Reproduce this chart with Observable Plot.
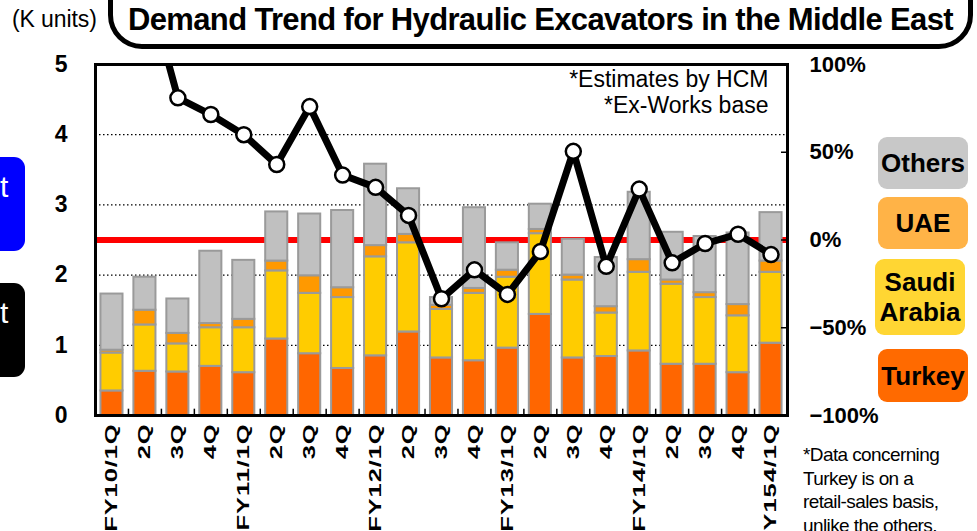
<!DOCTYPE html>
<html><head><meta charset="utf-8">
<script src="https://cdn.jsdelivr.net/npm/d3@7"></script>
<script src="https://cdn.jsdelivr.net/npm/@observablehq/plot@0.6"></script>
<style>
body{margin:0;width:977px;height:531px;overflow:hidden;background:#fff;font-family:"Liberation Sans",Arial,sans-serif;position:relative}
.abs{position:absolute}
#chart{position:absolute;left:0;top:0}
g[aria-label="x-axis tick label"] text{letter-spacing:0.6px}
.leg{position:absolute;display:flex;align-items:center;justify-content:center;text-align:center;font-weight:bold;font-size:26px;line-height:30px;border-radius:9px;color:#000}
</style></head><body>
<div id="chart"></div>
<div class="abs" style="left:-12px;top:157px;width:37px;height:94px;background:#0000ff;border-radius:11px"></div>
<div class="abs" style="left:0px;top:170px;color:#fff;font-size:30px;line-height:34px">t</div>
<div class="abs" style="left:-12px;top:283px;width:37px;height:94px;background:#000;border-radius:11px"></div>
<div class="abs" style="left:0px;top:296px;color:#fff;font-size:30px;line-height:34px">t</div>
<div class="abs" style="left:12px;top:5px;font-size:23px;line-height:28px;letter-spacing:-0.1px">(K units)</div>
<div class="abs" style="left:108px;top:-40px;width:865px;height:89px;border:5px solid #000;border-radius:34px;box-sizing:border-box"></div>
<div class="abs" style="left:108px;width:865px;top:2px;text-align:center;font-weight:bold;font-size:31px;line-height:36px;letter-spacing:-0.65px">Demand Trend for Hydraulic Excavators in the Middle East</div>
<div class="leg" style="left:878px;top:137px;width:90px;height:52px;background:#c8c8c8">Others</div>
<div class="leg" style="left:878px;top:197px;width:90px;height:52px;background:#ffb347">UAE</div>
<div class="leg" style="left:875px;top:259px;width:90px;height:76px;background:#ffd633">Saudi<br>Arabia</div>
<div class="leg" style="left:878px;top:349px;width:90px;height:53px;background:#ff6a00">Turkey</div>
<div class="abs" style="left:803px;top:443px;font-size:19px;line-height:23.5px;letter-spacing:-0.6px">*Data concerning<br>Turkey is on a<br>retail-sales basis,<br>unlike the others.</div>
<script>
const quarters = ["FY10/1Q","FY10/2Q","FY10/3Q","FY10/4Q","FY11/1Q","FY11/2Q","FY11/3Q","FY11/4Q","FY12/1Q","FY12/2Q","FY12/3Q","FY12/4Q","FY13/1Q","FY13/2Q","FY13/3Q","FY13/4Q","FY14/1Q","FY14/2Q","FY14/3Q","FY14/4Q","FY15/1Q"];
const tickLabels = ["FY10/1Q","2Q","3Q","4Q","FY11/1Q","2Q","3Q","4Q","FY12/1Q","2Q","3Q","4Q","FY13/1Q","2Q","3Q","4Q","FY14/1Q","2Q","3Q","4Q","FY154/1Q"];
const turkey = [0.35,0.63,0.62,0.70,0.61,1.09,0.88,0.67,0.85,1.19,0.82,0.78,0.96,1.44,0.82,0.84,0.92,0.73,0.73,0.61,1.03];
const saudi  = [0.54,0.66,0.40,0.55,0.64,0.97,0.86,1.01,1.41,1.27,0.69,0.96,1.01,1.15,1.11,0.62,1.12,1.14,0.95,0.81,1.01];
const uae    = [0.04,0.21,0.15,0.06,0.12,0.14,0.25,0.14,0.16,0.12,0.06,0.07,0.10,0.06,0.07,0.09,0.18,0.06,0.07,0.16,0.16];
const others = [0.80,0.47,0.49,1.03,0.84,0.70,0.88,1.10,1.16,0.65,0.11,1.15,0.39,0.36,0.51,0.70,0.96,0.68,0.80,1.02,0.69];
const yoy    = [170,150,81,71.5,60,43,76,37,30,14,-33.5,-17,-31,-6.6,50.5,-15,29,-13,-2,3.3,-8.3];
const regions = ["Turkey","Saudi Arabia","UAE","Others"];
const colors = ["#ff6600","#ffcc00","#ff9900","#c0c0c0"];
const leftTicks = [0,1,2,3,4,5];
const gridTicks = [1,2,3,4];
const rightTicks = [100,50,0,-50,-100];
const rightInnerTicks = [50,0,-50];
const notes = ["*Estimates by HCM", "*Ex-Works base"];
const noteLevels = [4.79, 4.42];

const W = 977, H = 531, mL = 95, mR = 190, mT = 64, mB = 116;
const plotW = W - mL - mR;
const step = plotW / quarters.length;
const pctToK = p => 2.5 + p / 40;
const kToPct = k => Math.round((k - 2.5) * 40);

const series = [turkey, saudi, uae, others];
const rows = regions.flatMap((r, j) => quarters.map((q, i) => ({q, region: r, v: series[j][i]})));
const lineData = quarters.map((q, i) => ({q, v: pctToK(yoy[i])}));
const noteData = notes.map((t, i) => ({t, y: noteLevels[i]}));

const chart = Plot.plot({
  width: W, height: H,
  marginLeft: mL, marginRight: mR, marginTop: mT, marginBottom: mB,
  style: {fontFamily: '"Liberation Sans", Arial, sans-serif', color: "#000", background: "transparent"},
  x: {domain: quarters, paddingInner: 0.33, paddingOuter: 0.165, round: false, label: null},
  y: {domain: [0, 5], label: null},
  color: {domain: regions, range: colors},
  marks: [
    Plot.gridY(gridTicks, {stroke: "#000", strokeOpacity: 1, strokeWidth: 1.3, strokeDasharray: "1.5,2.5"}),
    Plot.ruleY([2.5], {stroke: "#ff0000", strokeWidth: 6}),
    Plot.barY(rows, {x: "q", y: "v", z: "region", fill: "region", order: regions, stroke: "#9a9a9a", strokeWidth: 2}),
    Plot.ruleX(quarters.slice(1), {x: d => d, y1: 0, y2: 0.09, dx: -step / 2, stroke: "#000", strokeWidth: 1.5}),
    Plot.tickY(rightInnerTicks.map(pctToK), {y: d => d, stroke: "#000", strokeWidth: 1.5, insetLeft: plotW - 6}),
    Plot.frame({stroke: "#000", strokeWidth: 3}),
    Plot.line(lineData, {x: "q", y: "v", stroke: "#000", strokeWidth: 7, strokeLinejoin: "miter", clip: true}),
    Plot.dot(lineData, {x: "q", y: "v", r: 7.5, fill: "#fff", stroke: "#000", strokeWidth: 2.5, clip: true}),
    Plot.text(noteData, {y: "y", text: "t", frameAnchor: "right", textAnchor: "end", dx: -19, fontSize: 23, lineAnchor: "middle"}),
    Plot.axisY({anchor: "left", ticks: leftTicks, tickFormat: d3.format("d"), tickSize: 0, tickPadding: 28, fontSize: 23, fontWeight: "bold", label: null}),
    Plot.axisY({anchor: "right", ticks: rightTicks.map(pctToK), tickFormat: k => {const p = kToPct(k); return (p < 0 ? "\u2212" + (-p) : p) + "%";}, tickSize: 0, tickPadding: 22, fontSize: 22, fontWeight: "bold", label: null}),
    Plot.axisX({ticks: quarters, tickFormat: d => tickLabels[quarters.indexOf(d)], tickRotate: -90, tickSize: 0, tickPadding: 8, fontSize: 17, fontWeight: "bold", label: null})
  ]
});
document.getElementById("chart").appendChild(chart);
// stretch the rotated quarter labels along their length, as in the source
d3.select(chart).selectAll('g[aria-label="x-axis tick label"] text').each(function() {
  const t = this.getAttribute("transform") || "";
  this.setAttribute("transform", t + " scale(1.5,1)");
});
</script>
</body></html>
